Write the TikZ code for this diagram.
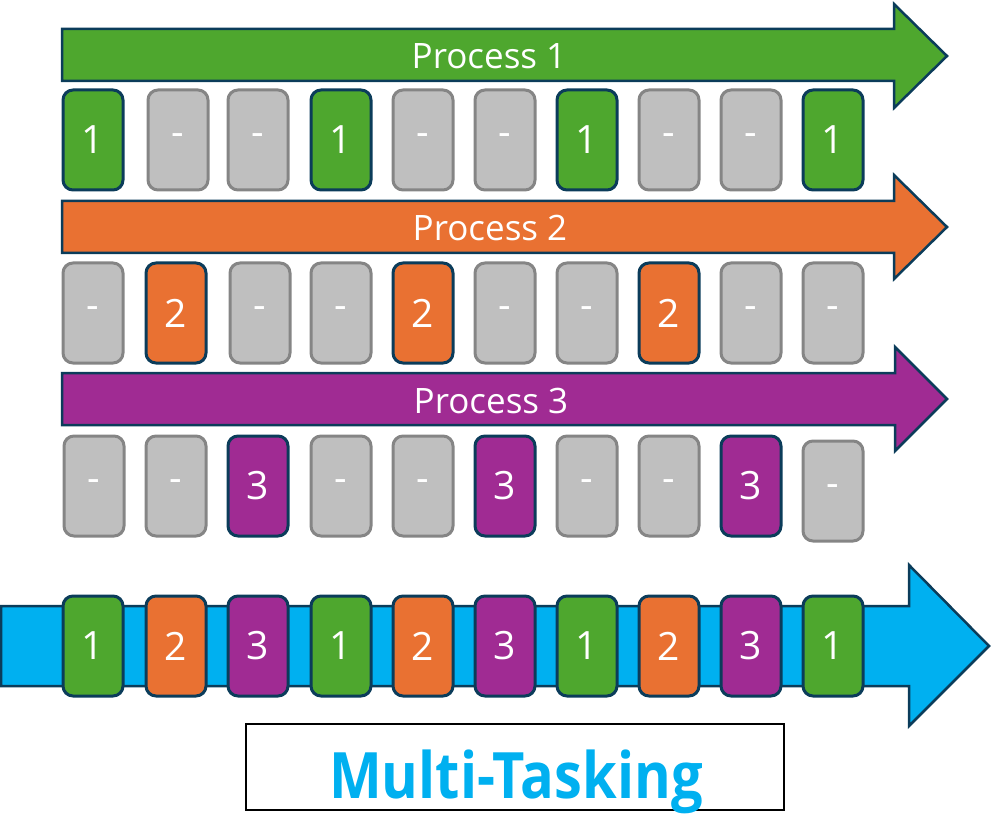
\documentclass[tikz,border=0pt]{standalone}
\usepackage{fontspec}
\setmainfont{Open Sans}
\definecolor{pgreen}{HTML}{4EA72E}
\definecolor{porange}{HTML}{E97132}
\definecolor{ppurple}{HTML}{A02B93}
\definecolor{pblue}{HTML}{00B0F0}
\definecolor{idlefill}{HTML}{BFBFBF}
\definecolor{idleline}{HTML}{858585}
\definecolor{navy}{HTML}{0B3C5A}
\begin{document}
\begin{tikzpicture}[x=1pt,y=-1pt,
  slot/.style={draw=navy, line width=3pt, rounded corners=10pt, minimum width=60pt,
    minimum height=100pt, inner sep=0pt, text=white, font=\fontsize{39}{41}\selectfont},
  p1/.style={slot, fill=pgreen},
  p2/.style={slot, fill=porange},
  p3/.style={slot, fill=ppurple},
  pi/.style={slot, fill=idlefill, draw=idleline},
  bigarrow/.style={draw=navy, line width=2.5pt, line join=miter},
  arrowlabel/.style={text=white, font=\fontsize{35}{37}\selectfont, inner sep=0pt},
]
\useasboundingbox (0,0) rectangle (991,837);

% Process arrows
\draw[bigarrow, fill=pgreen] (62,29) -- (894,29) -- (894,4) -- (947,56) -- (894,108) -- (894,81) -- (62,81) -- cycle;
\node[arrowlabel, anchor=base] (lab1) at (489,69) {Process 1};
\draw[bigarrow, fill=porange] (62,201) -- (894,201) -- (894,175) -- (947,227) -- (894,279) -- (894,253) -- (62,253) -- cycle;
\node[arrowlabel, anchor=base] (lab2) at (490,241) {Process 2};
\draw[bigarrow, fill=ppurple] (62,373) -- (895,373) -- (895,347) -- (947,399) -- (895,451) -- (895,425) -- (62,425) -- cycle;
\node[arrowlabel, anchor=base] (lab3) at (491,413) {Process 3};

% Row 1
\foreach \x/\s/\t [count=\i] in {93/p1/1,178/pi/-,258/pi/-,341/p1/1,423/pi/-,505/pi/-,587/p1/1,669/pi/-,751/pi/-,833/p1/1}
  \node[\s] (ra\i) at (\x,140) {\t};
% Row 2
\foreach \x/\s/\t [count=\i] in {93/pi/-,176/p2/2,260/pi/-,341/pi/-,423/p2/2,505/pi/-,587/pi/-,669/p2/2,751/pi/-,833/pi/-}
  \node[\s] (rb\i) at (\x,313) {\t};
% Row 3
\foreach \x/\s/\t [count=\i] in {94/pi/-,176/pi/-,258/p3/3,341/pi/-,423/pi/-,505/p3/3,587/pi/-,669/pi/-,751/p3/3}
  \node[\s] (rc\i) at (\x,486) {\t};
\node[pi] (rc10) at (833,491) {-};

% Bottom arrow
\draw[bigarrow, fill=pblue] (1,606) -- (909,606) -- (909,565) -- (989,646) -- (909,726) -- (909,686) -- (1,686) -- cycle;
\foreach \x/\s/\t [count=\i] in {93/p1/1,176/p2/2,258/p3/3,341/p1/1,423/p2/2,505/p3/3,587/p1/1,669/p2/2,751/p3/3,833/p1/1}
  \node[\s] (rd\i) at (\x,646) {\t};

% Title
\node[draw=black, line width=2pt, minimum width=538pt, minimum height=86pt] (titlebox) at (515,767) {};
\node[anchor=base, inner sep=0pt, text=pblue, font=\bfseries\fontsize{64}{66}\selectfont] (title) at (516,798) {\scalebox{0.875}[1]{Multi-Tasking}};
\end{tikzpicture}
\end{document}
